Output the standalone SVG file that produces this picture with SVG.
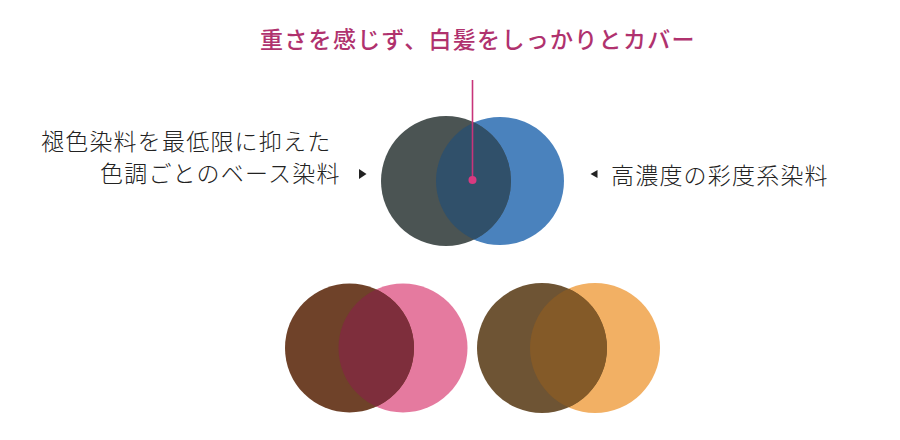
<svg xmlns="http://www.w3.org/2000/svg" width="900" height="440" viewBox="0 0 900 440">
<style>
.t{font-family:"Noto Sans CJK JP","Noto Sans CJK SC",sans-serif;font-size:23px;letter-spacing:1.2px;fill:#222;font-weight:300;}
.title{fill:#b0326e;font-weight:500;letter-spacing:1.3px;}
</style>
<defs>
<clipPath id="cBlue"><circle cx="500" cy="181" r="64"/></clipPath>
<clipPath id="cPink"><circle cx="403" cy="348" r="64.5"/></clipPath>
<clipPath id="cOrange"><circle cx="595" cy="348" r="65"/></clipPath>
</defs>
<rect width="900" height="440" fill="#ffffff"/>
<text id="title" class="t title" x="260" y="48">重さを感じず、白髪をしっかりとカバー</text>
<g id="node-top">
<circle cx="500" cy="181" r="64" fill="#4a82bd"/>
<circle cx="446" cy="181" r="65" fill="#4b5453"/>
<circle cx="446" cy="181" r="65" fill="#30506a" clip-path="url(#cBlue)"/>
</g>
<g id="node-pink">
<circle cx="403" cy="348" r="64.5" fill="#e57a9f"/>
<circle cx="349.5" cy="348" r="64.5" fill="#6f4229"/>
<circle cx="349.5" cy="348" r="64.5" fill="#7e2e3c" clip-path="url(#cPink)"/>
</g>
<g id="node-orange">
<circle cx="595" cy="348" r="65" fill="#f2b064"/>
<circle cx="542" cy="348" r="65" fill="#6e5434"/>
<circle cx="542" cy="348" r="65" fill="#845a28" clip-path="url(#cOrange)"/>
</g>
<g id="label-left">
<text class="t" x="41" y="150">褪色染料を最低限に抑えた</text>
<text class="t" x="100" y="182">色調ごとのベース染料</text>
</g>
<g id="label-right">
<text class="t" x="611" y="184">高濃度の彩度系染料</text>
</g>
<g id="connectors">
<line x1="472.5" y1="80" x2="472.5" y2="180" stroke="#c8347a" stroke-width="1.6"/>
<circle cx="472.5" cy="180" r="4" fill="#d83a80"/>
<polygon points="359,169 366.5,174 359,179" fill="#222"/>
<polygon points="597.5,170 590.5,174 597.5,178" fill="#222"/>
</g>
</svg>
